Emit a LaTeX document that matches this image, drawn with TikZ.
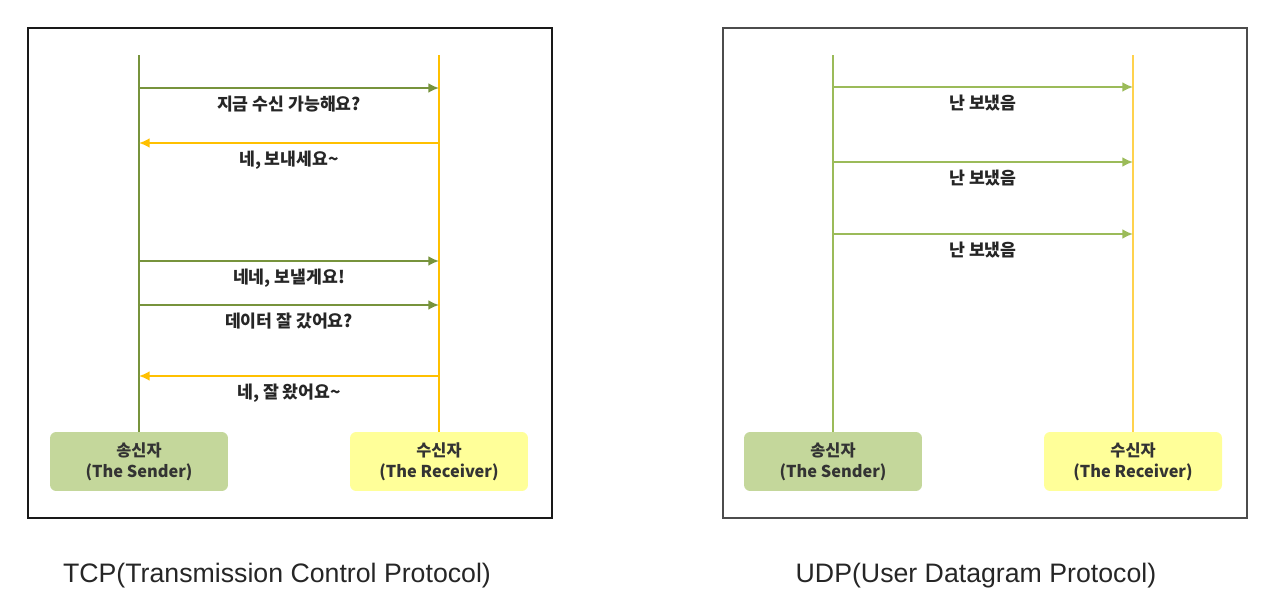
\documentclass[tikz,border=0pt]{standalone}
\usepackage{fontspec}
\setmainfont{Liberation Sans}
\newfontfamily\kr{Noto Sans CJK KR}
\usetikzlibrary{arrows.meta}

\definecolor{sndgreen}{HTML}{77933C}
\definecolor{rcvyellow}{HTML}{FFC000}
\definecolor{sndgreenlt}{HTML}{9BBB59}
\definecolor{rcvyellowlt}{HTML}{FFD24D}
\definecolor{sndfill}{HTML}{C4D79B}
\definecolor{rcvfill}{HTML}{FFFF99}

\tikzset{
    party/.style={rounded corners=3.5pt, minimum width=3.56cm, minimum height=1.18cm,
        align=center, font=\kr\bfseries\fontsize{9.3}{12}\selectfont, text=black!80},
    msg/.style={font=\kr\bfseries\fontsize{9.8}{10}\selectfont, text=black!85,
        inner sep=0pt, text height=7pt, text depth=2pt, below=5pt},
    lifeline/.style={line width=1.1pt},
    go/.style={line width=1.1pt, -{Latex[length=6pt,width=5.5pt]}},
    caption/.style={font=\fontsize{15.2}{18}\selectfont, text=black!85}
}

\begin{document}
\begin{tikzpicture}[x=0.02cm, y=-0.02cm]
    \useasboundingbox (0,0) rectangle (1280,614);

    % TCP frame
    \draw[line width=1.2pt, draw=black!90] (28,28) rectangle (552,518);
    \node[party, fill=sndfill] (tcpsnd) at (139,461.5) {송신자\\(The Sender)};
    \node[party, fill=rcvfill] (tcprcv) at (439,461.5) {수신자\\(The Receiver)};
    \coordinate (tcpsndtop) at (139,55);
    \coordinate (tcprcvtop) at (439,55);
    \draw[lifeline, sndgreen] (tcpsnd) -- (tcpsndtop);
    \draw[lifeline, rcvyellow] (tcprcv) -- (tcprcvtop);

    % TCP messages
    \coordinate (t1s) at (139,88);  \coordinate (t1r) at (439,88);
    \coordinate (t2s) at (139,143); \coordinate (t2r) at (439,143);
    \coordinate (t3s) at (139,261); \coordinate (t3r) at (439,261);
    \coordinate (t4s) at (139,305); \coordinate (t4r) at (439,305);
    \coordinate (t5s) at (139,376); \coordinate (t5r) at (439,376);
    \draw[go, sndgreen] (t1s) -- node[msg] (m1) {지금 수신 가능해요?} (t1r);
    \draw[go, rcvyellow] (t2r) -- node[msg] (m2) {네, 보내세요\textasciitilde} (t2s);
    \draw[go, sndgreen] (t3s) -- node[msg] (m3) {네네, 보낼게요!} (t3r);
    \draw[go, sndgreen] (t4s) -- node[msg] (m4) {데이터 잘 갔어요?} (t4r);
    \draw[go, rcvyellow] (t5r) -- node[msg] (m5) {네, 잘 왔어요\textasciitilde} (t5s);

    % UDP frame
    \draw[line width=1.2pt, draw=black!70] (723,28) rectangle (1247,518);
    \node[party, fill=sndfill] (udpsnd) at (833,461.5) {송신자\\(The Sender)};
    \node[party, fill=rcvfill] (udprcv) at (1133,461.5) {수신자\\(The Receiver)};
    \coordinate (udpsndtop) at (833,55);
    \coordinate (udprcvtop) at (1133,55);
    \draw[lifeline, sndgreenlt] (udpsnd) -- (udpsndtop);
    \draw[lifeline, rcvyellowlt] (udprcv) -- (udprcvtop);

    % UDP messages
    \coordinate (u1s) at (833,87);  \coordinate (u1r) at (1133,87);
    \coordinate (u2s) at (833,162); \coordinate (u2r) at (1133,162);
    \coordinate (u3s) at (833,234); \coordinate (u3r) at (1133,234);
    \draw[go, sndgreenlt] (u1s) -- node[msg] (n1) {난 보냈음} (u1r);
    \draw[go, sndgreenlt] (u2s) -- node[msg] (n2) {난 보냈음} (u2r);
    \draw[go, sndgreenlt] (u3s) -- node[msg] (n3) {난 보냈음} (u3r);

    % Captions
    \node[caption] (tcpcap) at (277,576) {TCP(Transmission Control Protocol)};
    \node[caption] (udpcap) at (976,576) {UDP(User Datagram Protocol)};

\end{tikzpicture}
\end{document}
